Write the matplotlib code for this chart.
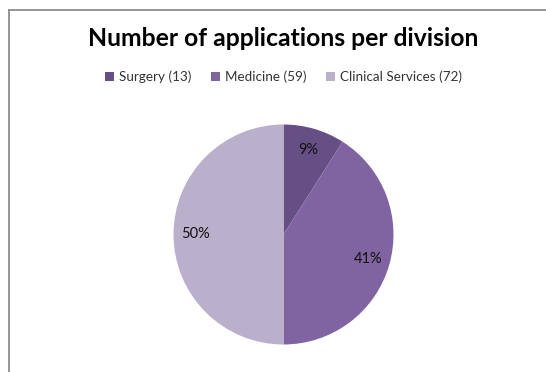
import matplotlib.pyplot as plt
from matplotlib.lines import Line2D
from matplotlib.patches import Patch

divisions = ['Surgery', 'Medicine', 'Clinical Services']
applications = [13, 59, 72]
colors = ['#664F85', '#8064A2', '#BBB0CB']

W, H = 546, 372
fig = plt.figure(figsize=(W / 100, H / 100), dpi=100)
fig.patch.set_facecolor('white')

# chart frame, cut off at the right and bottom
fig.add_artist(Line2D([9 / W, 1], [1 - 10 / H, 1 - 10 / H],
                      transform=fig.transFigure, color='#8c8c8c', lw=1.3))
fig.add_artist(Line2D([9 / W, 9 / W], [0, 1 - 10 / H],
                      transform=fig.transFigure, color='#8c8c8c', lw=1.3))

cx, cy, r = 283.5, 372 - 234.5, 110
ax = fig.add_axes([(cx - r) / W, (cy - r) / H, 2 * r / W, 2 * r / H])
wedges, texts, autotexts = ax.pie(
    applications, colors=colors, startangle=90, counterclock=False,
    autopct=lambda p: '{:.0f}%'.format(p), pctdistance=0.8, radius=1,
    textprops={'fontsize': 10.5, 'family': 'Lato', 'color': '#111111'})
ax.set_xlim(-1, 1)
ax.set_ylim(-1, 1)
ax.set_aspect('equal')
ax.axis('off')

fig.text(cx / W, 1 - 39 / H, 'Number of applications per division',
         ha='center', va='center', fontsize=17.8, fontweight='bold',
         family='Lato', color='black')

handles = [Patch(facecolor=c, edgecolor='none') for c in colors]
labels = ['{} ({})'.format(d, n) for d, n in zip(divisions, applications)]
fig.legend(handles, labels, loc='center', bbox_to_anchor=(cx / W, 1 - 77 / H),
           ncol=3, frameon=False, prop={'family': 'Lato', 'size': 9.7},
           handlelength=0.7, handleheight=0.7, handletextpad=0.35,
           columnspacing=1.45, labelcolor='#333333')

fig.savefig('out.png', dpi=100)
